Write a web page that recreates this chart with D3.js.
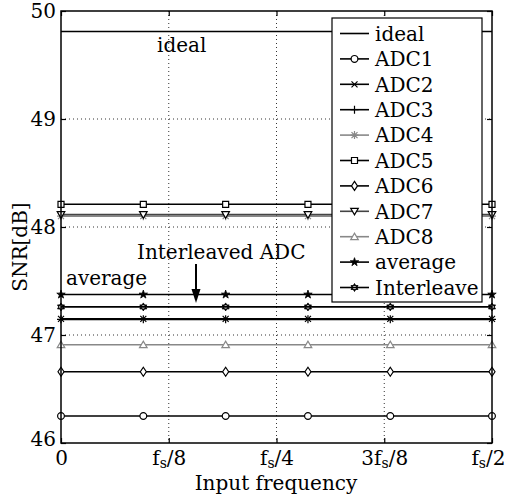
<!DOCTYPE html>
<html>
<head>
<meta charset="utf-8">
<script src="https://cdn.jsdelivr.net/npm/d3@7"></script>
<style>
body { margin:0; background:#fff; }
svg text { font-family:"DejaVu Serif", serif; fill:#000; }
</style>
</head>
<body>
<div id="chart"></div>
<script>
//DATA
const freqs = [0, 0.0955, 0.191, 0.2865, 0.382, 0.5];   // in units of fs
const xTicks = [0, 0.125, 0.25, 0.375, 0.5];
const xTickLabels = [["0"], ["f", "s", "/8"], ["f", "s", "/4"], ["3f", "s", "/8"], ["f", "s", "/2"]];
const yTicks = [46, 47, 48, 49, 50];

const seriesNames = ["ideal", "ADC1", "ADC2", "ADC3", "ADC4", "ADC5", "ADC6", "ADC7", "ADC8", "average", "Interleave"];
const ideal      = [49.81, 49.81, 49.81, 49.81, 49.81, 49.81];
const adc1       = [46.25, 46.25, 46.25, 46.25, 46.25, 46.25];
const adc2       = [47.15, 47.15, 47.15, 47.15, 47.15, 47.15];
const adc3       = [47.145, 47.145, 47.145, 47.145, 47.145, 47.145];
const adc4       = [48.10, 48.10, 48.10, 48.10, 48.10, 48.10];
const adc5       = [48.21, 48.21, 48.21, 48.21, 48.21, 48.21];
const adc6       = [46.66, 46.66, 46.66, 46.66, 46.66, 46.66];
const adc7       = [48.115, 48.115, 48.115, 48.115, 48.115, 48.115];
const adc8       = [46.91, 46.91, 46.91, 46.91, 46.91, 46.91];
const average    = [47.375, 47.375, 47.375, 47.375, 47.375, 47.375];
const interleave = [47.26, 47.26, 47.26, 47.26, 47.26, 47.26];
const seriesValues = [ideal, adc1, adc2, adc3, adc4, adc5, adc6, adc7, adc8, average, interleave];

//STYLE PER SERIES
const styles = {
  ideal:      {color:"#000", marker:null},
  ADC1:       {color:"#000", marker:"circle"},
  ADC2:       {color:"#000", marker:"x"},
  ADC3:       {color:"#000", marker:"plus"},
  ADC4:       {color:"#888", marker:"asterisk"},
  ADC5:       {color:"#000", marker:"square"},
  ADC6:       {color:"#000", marker:"diamond"},
  ADC7:       {color:"#444", marker:"tridown", mcolor:"#000"},
  ADC8:       {color:"#888", marker:"triup"},
  average:    {color:"#000", marker:"star"},
  Interleave: {color:"#000", marker:"hexagram"}
};

//LAYOUT
const W = 506, H = 495;
const plot = {left:61, right:492, top:11, bottom:443};
const FS = 20;

const svg = d3.select("#chart").append("svg")
  .attr("width", W).attr("height", H);

const x = d3.scaleLinear().domain([0, 0.5]).range([plot.left, plot.right]);
const y = d3.scaleLinear().domain([46, 50]).range([plot.bottom, plot.top]);

//grid
const grid = svg.append("g").attr("stroke", "#333").attr("stroke-width", 1).attr("stroke-dasharray", "1,3");
grid.selectAll(".gx").data(xTicks.slice(1, -1)).join("line")
  .attr("x1", d => x(d)).attr("x2", d => x(d)).attr("y1", plot.top).attr("y2", plot.bottom);
grid.selectAll(".gy").data(yTicks.slice(1, -1)).join("line")
  .attr("y1", d => y(d)).attr("y2", d => y(d)).attr("x1", plot.left).attr("x2", plot.right);

//axes
const xAxis = svg.append("g").attr("transform", `translate(0,${plot.bottom})`)
  .call(d3.axisBottom(x).tickValues(xTicks).tickSizeInner(-5).tickSizeOuter(0).tickFormat(""));
const xTop = svg.append("g").attr("transform", `translate(0,${plot.top})`)
  .call(d3.axisTop(x).tickValues(xTicks).tickSizeInner(-5).tickSizeOuter(0).tickFormat(""));
const yAxis = svg.append("g").attr("transform", `translate(${plot.left},0)`)
  .call(d3.axisLeft(y).tickValues(yTicks).tickSizeInner(-5).tickSizeOuter(0).tickPadding(5).tickFormat(d3.format("d")));
const yRight = svg.append("g").attr("transform", `translate(${plot.right},0)`)
  .call(d3.axisRight(y).tickValues(yTicks).tickSizeInner(-5).tickSizeOuter(0).tickFormat(""));

[xAxis, xTop, yAxis, yRight].forEach(g => {
  g.select(".domain").remove();
  g.selectAll("line").attr("stroke", "#000").attr("stroke-width", 1.2);
});
yAxis.selectAll("text").attr("font-size", FS).attr("font-family", "DejaVu Serif").attr("fill", "#000");
yAxis.selectAll(".tick").filter(d => d === 46).select("text").attr("dy", "0.1em");

//x tick labels with subscript s
xAxis.selectAll(".tick text").each(function(d, i) {
  const t = d3.select(this).text(null).attr("font-size", FS).attr("font-family", "DejaVu Serif")
    .attr("fill", "#000").attr("y", 22).attr("dy", 0);
  if (i === xTicks.length - 1) t.attr("text-anchor", "end").attr("x", 505 - plot.right);
  const parts = xTickLabels[i];
  t.append("tspan").text(parts[0]);
  if (parts.length > 1) {
    t.append("tspan").text(parts[1]).attr("font-size", 14).attr("dy", 3);
    t.append("tspan").text(parts[2]).attr("dy", -3);
  }
});

//markers
function markerPath(type) {
  switch (type) {
    case "circle":   return d3.symbol(d3.symbolCircle, 36)();
    case "square":   return "M-3,-3H3V3H-3Z";
    case "diamond":  return "M0,-4.5L3,0L0,4.5L-3,0Z";
    case "tridown":  return "M-3.8,-3L3.8,-3L0,3.6Z";
    case "triup":    return "M-3.8,3L3.8,3L0,-3.6Z";
    case "x":        return "M-3,-3L3,3M-3,3L3,-3";
    case "plus":     return "M-4,0L4,0M0,-4L0,4";
    case "asterisk": return "M-4,0L4,0M0,-4L0,4M-3,-3L3,3M-3,3L3,-3";
    case "star":     return d3.symbol(d3.symbolStar, 22)();
    case "hexagram": return "M0,-4L3.5,2L-3.5,2ZM0,4L3.5,-2L-3.5,-2Z";
  }
  return null;
}
function markerFill(type, c) {
  if (type === "star" || type === "hexagram") return c;
  if (["circle", "square", "diamond", "tridown", "triup"].includes(type)) return "#fff";
  return "none";
}
function markerStroke(type) {
  return (type === "star" || type === "hexagram") ? 0.8 : 1.2;
}

const line = d3.line().x(d => x(d[0])).y(d => y(d[1]));
const plotArea = svg.append("g");

seriesNames.forEach((name, i) => {
  const st = styles[name];
  const pts = freqs.map((f, j) => [f, seriesValues[i][j]]);
  const g = plotArea.append("g");
  g.append("path").attr("d", line(pts)).attr("fill", "none")
    .attr("stroke", st.color).attr("stroke-width", 1.6);
  if (st.marker) {
    const mc = st.mcolor || st.color;
    g.selectAll("path.m").data(pts).join("path").attr("class", "m")
      .attr("transform", d => `translate(${x(d[0])},${y(d[1])})`)
      .attr("d", markerPath(st.marker))
      .attr("fill", markerFill(st.marker, mc))
      .attr("stroke", mc).attr("stroke-width", markerStroke(st.marker));
  }
});

//frame
svg.append("rect").attr("x", plot.left).attr("y", plot.top)
  .attr("width", plot.right - plot.left).attr("height", plot.bottom - plot.top)
  .attr("fill", "none").attr("stroke", "#000").attr("stroke-width", 1.5);

//annotations
svg.append("text").attr("x", 157).attr("y", 52).attr("font-size", FS).text("ideal");
svg.append("text").attr("x", 66).attr("y", 285).attr("font-size", FS).text("average");
svg.append("text").attr("x", 137).attr("y", 259).attr("font-size", FS).text("Interleaved ADC");
svg.append("line").attr("x1", 196).attr("x2", 196).attr("y1", 264).attr("y2", 292)
  .attr("stroke", "#000").attr("stroke-width", 2);
svg.append("path").attr("d", "M191.5,289L200.5,289L196,303Z").attr("fill", "#000");

//axis titles
svg.append("text").attr("x", 276).attr("y", 490)
  .attr("text-anchor", "middle").attr("font-size", FS).text("Input frequency");
svg.append("text").attr("transform", "translate(27,247) rotate(-90)")
  .attr("text-anchor", "middle").attr("font-size", FS).text("SNR[dB]");

//legend
const leg = {left:332, top:18, right:482, bottom:302, row0:33.5, step:25.4};
const lg = svg.append("g");
lg.append("rect").attr("x", leg.left).attr("y", leg.top)
  .attr("width", leg.right - leg.left).attr("height", leg.bottom - leg.top)
  .attr("fill", "#fff").attr("stroke", "#000").attr("stroke-width", 1.2);
seriesNames.forEach((name, i) => {
  const st = styles[name];
  const yy = leg.row0 + i * leg.step;
  lg.append("line").attr("x1", 340).attr("x2", 369).attr("y1", yy).attr("y2", yy)
    .attr("stroke", st.color).attr("stroke-width", 1.6);
  if (st.marker) {
    const mc = st.mcolor || st.color;
    lg.append("path").attr("transform", `translate(354.5,${yy})`)
      .attr("d", markerPath(st.marker)).attr("fill", markerFill(st.marker, mc))
      .attr("stroke", mc).attr("stroke-width", markerStroke(st.marker));
  }
  lg.append("text").attr("x", 375).attr("y", yy).attr("dy", "0.36em")
    .attr("font-size", FS).text(name);
});
</script>
</body>
</html>
